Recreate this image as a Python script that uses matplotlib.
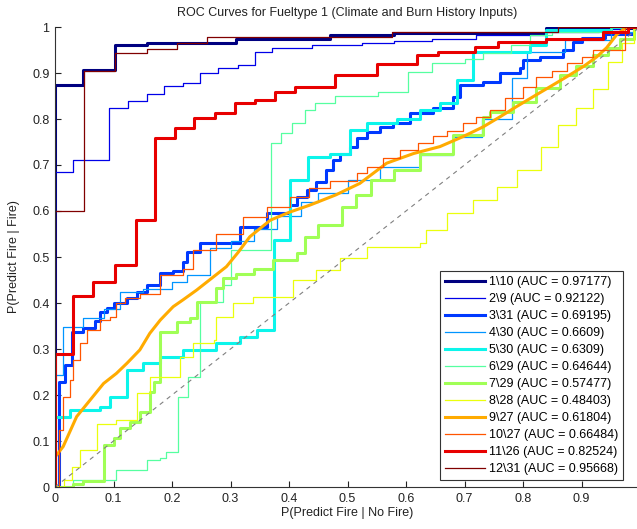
import numpy as np
import matplotlib
matplotlib.use('Agg')
import matplotlib.pyplot as plt

plt.rcParams['font.family'] = ['Liberation Sans', 'DejaVu Sans']

groups = ['1\\10', '2\\9', '3\\31', '4\\30', '5\\30', '6\\29',
          '7\\29', '8\\28', '9\\27', '10\\27', '11\\26', '12\\31']
auc = [0.97177, 0.92122, 0.69195, 0.6609, 0.6309, 0.64644,
       0.57477, 0.48403, 0.61804, 0.66484, 0.82524, 0.95668]

# ROC points (false positive rate, true positive rate)
x1 = [0, 0, 0.048, 0.103, 0.157, 0.31, 0.47, 0.58, 0.84, 1.0]
y1 = [0, 0.875, 0.907, 0.960, 0.966, 0.973, 0.982, 0.986, 0.998, 1.0]

x2 = [0, 0, 0.031, 0.092, 0.125, 0.157, 0.186, 0.219, 0.248, 0.279, 0.313,
      0.342, 0.371, 0.44, 0.525, 0.58, 0.645, 0.72, 0.84, 0.93, 0.97, 1.0]
y2 = [0, 0.685, 0.711, 0.824, 0.839, 0.854, 0.871, 0.878, 0.90, 0.911, 0.917,
      0.946, 0.954, 0.961, 0.965, 0.970, 0.974, 0.983, 0.99, 0.995, 1.0, 1.0]

x3 = [0, 0.007, 0.007, 0.017, 0.029, 0.048, 0.068, 0.077, 0.089, 0.10, 0.123,
      0.14, 0.157, 0.18, 0.202, 0.219, 0.225, 0.248, 0.316, 0.362, 0.402,
      0.413, 0.43, 0.447, 0.464, 0.476, 0.487, 0.504, 0.516, 0.533, 0.556,
      0.578, 0.607, 0.647, 0.681, 0.692, 0.732, 0.761, 0.795, 0.80, 0.829,
      0.868, 0.886, 0.90, 0.94, 0.99, 1.0]
y3 = [0, 0, 0.228, 0.265, 0.337, 0.345, 0.36, 0.38, 0.39, 0.40, 0.41,
      0.425, 0.44, 0.465, 0.47, 0.49, 0.51, 0.53, 0.566, 0.595, 0.613,
      0.631, 0.646, 0.664, 0.689, 0.711, 0.725, 0.74, 0.758, 0.772, 0.783,
      0.791, 0.812, 0.823, 0.848, 0.874, 0.881, 0.899, 0.91, 0.928, 0.935,
      0.95, 0.968, 0.976, 0.985, 1.0, 1.0]

x4 = [0, 0, 0.014, 0.048, 0.083, 0.111, 0.15, 0.2, 0.225, 0.265, 0.30, 0.34,
      0.38, 0.42, 0.45, 0.5, 0.556, 0.624, 0.68, 0.73, 0.781, 0.806, 0.872,
      0.95, 0.99, 1.0]
y4 = [0, 0.243, 0.348, 0.367, 0.388, 0.425, 0.43, 0.445, 0.46, 0.52, 0.535,
      0.56, 0.59, 0.62, 0.64, 0.667, 0.696, 0.722, 0.76, 0.80, 0.89, 0.946,
      0.972, 0.99, 1.0, 1.0]

x5 = [0, 0, 0.026, 0.077, 0.094, 0.123, 0.151, 0.18, 0.219, 0.276, 0.316,
      0.345, 0.374, 0.402, 0.433, 0.47, 0.504, 0.533, 0.584, 0.624, 0.658,
      0.687, 0.715, 0.812, 0.84, 0.95, 1.0]
y5 = [0, 0.153, 0.167, 0.175, 0.196, 0.254, 0.269, 0.283, 0.298, 0.312, 0.327,
      0.341, 0.537, 0.667, 0.718, 0.725, 0.776, 0.791, 0.801, 0.82, 0.834,
      0.885, 0.946, 0.961, 0.993, 1.0, 1.0]

x6 = [0, 0.031, 0.105, 0.157, 0.18, 0.19, 0.211, 0.228, 0.248, 0.288, 0.30,
      0.37, 0.387, 0.405, 0.427, 0.444, 0.479, 0.552, 0.604, 0.644, 0.70,
      0.732, 0.78, 0.812, 0.85, 0.95, 1.0]
y6 = [0, 0.015, 0.037, 0.059, 0.063, 0.077, 0.196, 0.24, 0.403, 0.44, 0.515,
      0.747, 0.769, 0.791, 0.82, 0.834, 0.849, 0.859, 0.903, 0.921, 0.93,
      0.943, 0.96, 0.983, 0.99, 1.0, 1.0]

x7 = [0, 0.03, 0.048, 0.083, 0.10, 0.111, 0.128, 0.145, 0.162, 0.17, 0.18,
      0.208, 0.231, 0.242, 0.276, 0.288, 0.31, 0.34, 0.373, 0.413, 0.427,
      0.45, 0.49, 0.515, 0.541, 0.58, 0.624, 0.68, 0.732, 0.744, 0.783,
      0.823, 0.863, 0.89, 0.92, 0.945, 0.966, 0.99, 1.0]
y7 = [0, 0.006, 0.012, 0.091, 0.106, 0.128, 0.142, 0.164, 0.207, 0.229, 0.338,
      0.359, 0.367, 0.403, 0.432, 0.454, 0.464, 0.475, 0.493, 0.508, 0.544,
      0.57, 0.609, 0.635, 0.667, 0.69, 0.725, 0.765, 0.805, 0.816, 0.838,
      0.867, 0.896, 0.915, 0.939, 0.955, 0.975, 1.0, 1.0]

x8 = [0, 0.015, 0.029, 0.043, 0.071, 0.105, 0.14, 0.162, 0.214, 0.236, 0.271,
      0.276, 0.305, 0.339, 0.407, 0.447, 0.487, 0.533, 0.624, 0.635, 0.67,
      0.715, 0.755, 0.79, 0.83, 0.86, 0.89, 0.92, 0.945, 0.97, 0.99, 1.0]
y8 = [0, 0.015, 0.044, 0.08, 0.138, 0.146, 0.204, 0.24, 0.283, 0.312, 0.32,
      0.37, 0.399, 0.414, 0.45, 0.472, 0.497, 0.522, 0.53, 0.559, 0.595,
      0.624, 0.653, 0.69, 0.74, 0.787, 0.823, 0.865, 0.925, 0.965, 1.0, 1.0]

x9 = [0, 0, 0.014, 0.037, 0.06, 0.083, 0.105, 0.123, 0.145, 0.162, 0.18, 0.202,
      0.219, 0.242, 0.271, 0.293, 0.313, 0.333, 0.368, 0.40, 0.436, 0.48,
      0.521, 0.567, 0.613, 0.658, 0.698, 0.732, 0.761, 0.789, 0.818, 0.846,
      0.875, 0.903, 0.926, 0.943, 0.96, 0.977, 1.0]
y9 = [0, 0.065, 0.088, 0.153, 0.189, 0.225, 0.247, 0.269, 0.298, 0.334, 0.363,
      0.392, 0.407, 0.428, 0.457, 0.479, 0.51, 0.544, 0.58, 0.597, 0.613,
      0.635, 0.66, 0.704, 0.725, 0.74, 0.762, 0.783, 0.805, 0.827, 0.849,
      0.87, 0.892, 0.914, 0.935, 0.955, 0.983, 1.0, 1.0]

x10 = [0, 0.006, 0.014, 0.026, 0.031, 0.043, 0.054, 0.077, 0.094, 0.105, 0.12,
       0.145, 0.18, 0.219, 0.236, 0.276, 0.322, 0.362, 0.402, 0.435, 0.47,
       0.516, 0.533, 0.56, 0.59, 0.62, 0.647, 0.67, 0.698, 0.72, 0.744, 0.77,
       0.80, 0.823, 0.85, 0.875, 0.90, 0.92, 0.975, 1.0]
y10 = [0, 0.124, 0.196, 0.233, 0.276, 0.312, 0.341, 0.363, 0.37, 0.399, 0.41,
       0.42, 0.461, 0.475, 0.515, 0.551, 0.588, 0.609, 0.631, 0.65, 0.665,
       0.682, 0.696, 0.715, 0.733, 0.748, 0.762, 0.775, 0.791, 0.805, 0.82,
       0.845, 0.87, 0.892, 0.905, 0.921, 0.935, 0.95, 1.0, 1.0]

x11 = [0, 0, 0.031, 0.065, 0.103, 0.138, 0.171, 0.205, 0.238, 0.274, 0.308,
       0.342, 0.376, 0.41, 0.479, 0.55, 0.619, 0.655, 0.718, 0.757, 0.84,
       0.937, 0.98, 1.0]
y11 = [0, 0.289, 0.415, 0.446, 0.483, 0.58, 0.759, 0.78, 0.802, 0.813, 0.835,
       0.841, 0.859, 0.87, 0.896, 0.92, 0.939, 0.946, 0.957, 0.967, 0.975,
       0.99, 1.0, 1.0]

x12 = [0, 0, 0.05, 0.103, 0.157, 0.209, 0.26, 0.576, 0.86, 1.0]
y12 = [0, 0.60, 0.905, 0.943, 0.952, 0.966, 0.978, 0.99, 1.0, 1.0]

fpr = [x1, x2, x3, x4, x5, x6, x7, x8, x9, x10, x11, x12]
tpr = [y1, y2, y3, y4, y5, y6, y7, y8, y9, y10, y11, y12]

colors = plt.cm.jet(np.linspace(0, 1, 12))

fig = plt.figure(figsize=(6.37, 5.29), dpi=100)
ax = fig.add_axes([55 / 637, 42 / 529, 585 / 637, 460 / 529])

for i in range(12):
    lw = 2.2 if i % 2 == 0 else 0.9
    ds = 'default' if i == 8 else 'steps-post'
    ax.plot(fpr[i], tpr[i], color=colors[i], lw=lw, drawstyle=ds,
            label='%s (AUC = %.5g)' % (groups[i], auc[i]))

ax.plot([0, 1], [0, 1], color='gray', lw=0.8, ls=(0, (4, 4)))

ax.set_xlim(0, 1)
ax.set_ylim(0, 1)
ticks = np.arange(0, 1.01, 0.1)
yticklabels = ['0'] + ['%.1f' % t for t in ticks[1:-1]] + ['1']
# the x label for 1 falls off the right edge in the original
xticklabels = yticklabels[:-1] + ['']
ax.set_xticks(ticks)
ax.set_xticklabels(xticklabels)
ax.set_yticks(ticks)
ax.set_yticklabels(yticklabels)
ax.tick_params(direction='in', length=4, width=0.8, labelsize=9,
               colors='#222222', pad=4)
ax.spines['top'].set_visible(False)
ax.spines['right'].set_visible(False)
ax.spines['left'].set_color('#333333')
ax.spines['bottom'].set_color('#333333')

ax.set_title('ROC Curves for Fueltype 1 (Climate and Burn History Inputs)',
             fontsize=9, pad=8, color='#222222')
ax.set_xlabel('P(Predict Fire | No Fire)', fontsize=9, labelpad=2, color='#222222')
ax.set_ylabel('P(Predict Fire | Fire)', fontsize=9, labelpad=9, color='#222222')

leg = ax.legend(loc='lower right', bbox_to_anchor=(0.971, 0.015),
                borderaxespad=0, fontsize=9, handlelength=3.2,
                labelspacing=0.4, fancybox=False, framealpha=1,
                edgecolor='#333333', borderpad=0.4, handletextpad=0.3)
leg.get_frame().set_linewidth(0.8)

plt.savefig('out.png', dpi=100)
